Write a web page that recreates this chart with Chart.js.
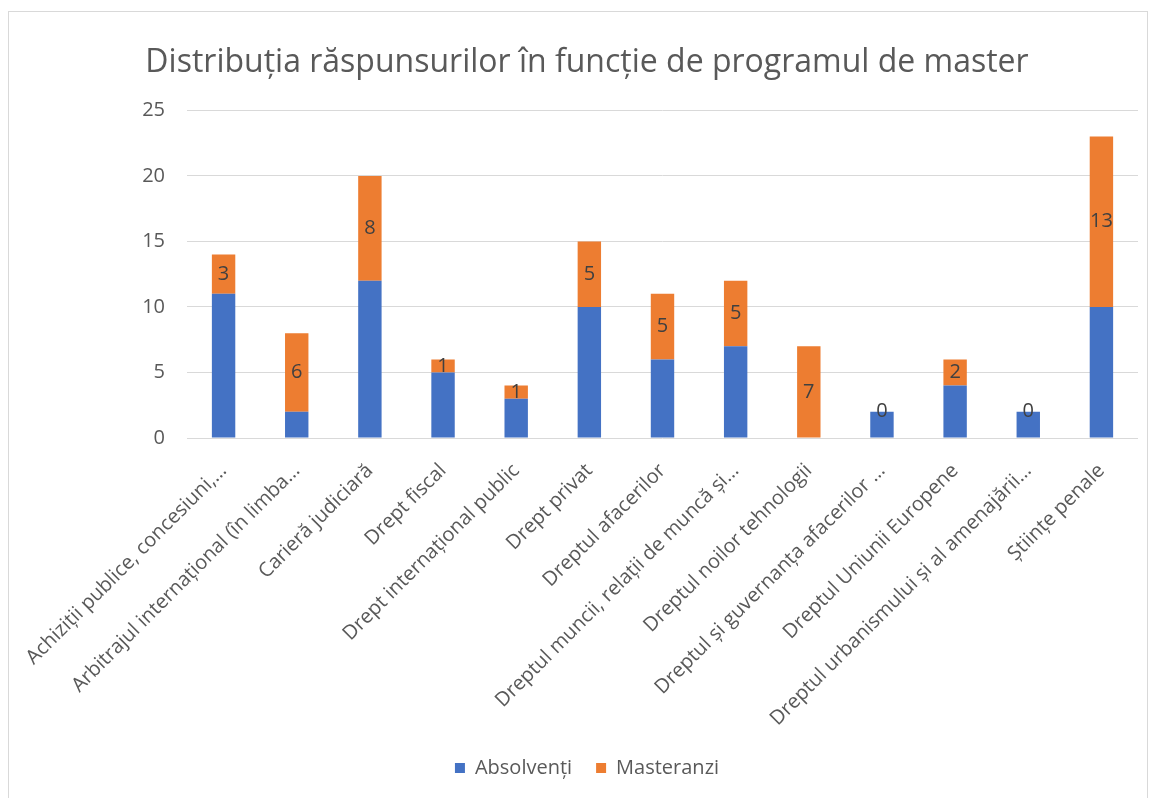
<!DOCTYPE html>
<html>
<head>
<meta charset="utf-8">
<script src="https://cdn.jsdelivr.net/npm/chart.js@4.4.1/dist/chart.umd.min.js"></script>
<style>
  html, body { margin: 0; padding: 0; background: #fff; }
  .frame {
    position: absolute;
    left: 8px;
    top: 11px;
    width: 1140px;
    height: 790px;
    border: 1px solid #d9d9d9;
    box-sizing: border-box;
  }
  .frame canvas { display: block; }
</style>
</head>
<body>
<div class="frame">
  <canvas id="chart" width="1138" height="788"></canvas>
</div>
<script>
const programs = [
  'Achiziții publice, concesiuni,…',
  'Arbitrajul internațional (în limba…',
  'Carieră judiciară',
  'Drept fiscal',
  'Drept internațional public',
  'Drept privat',
  'Dreptul afacerilor',
  'Dreptul muncii, relații de muncă și…',
  'Dreptul noilor tehnologii',
  'Dreptul și guvernanța afacerilor …',
  'Dreptul Uniunii Europene',
  'Dreptul urbanismului și al amenajării…',
  'Științe penale',
];
const absolventi = [11, 2, 12, 5, 3, 10, 6, 7, 0, 2, 4, 2, 10];
const masteranzi = [3, 6, 8, 1, 1, 5, 5, 5, 7, 0, 2, 0, 13];
const yTicks = [0, 5, 10, 15, 20, 25];

const COLORS = {
  blue: '#4472c4',
  orange: '#ed7d31',
  grid: '#d9d9d9',
  text: '#595959',
  label: '#404040',
};
const FONT = 'Open Sans, sans-serif';

// draws the value labels in the middle of the orange segments
const barLabels = {
  id: 'barLabels',
  afterDatasetsDraw(chart) {
    const { ctx } = chart;
    const meta = chart.getDatasetMeta(1);
    ctx.save();
    ctx.font = `20px ${FONT}`;
    ctx.fillStyle = COLORS.label;
    ctx.textAlign = 'center';
    ctx.textBaseline = 'middle';
    meta.data.forEach((bar, i) => {
      const { x, y, base } = bar.getProps(['x', 'y', 'base'], true);
      ctx.fillText(String(masteranzi[i]), x, (y + base) / 2);
    });
    ctx.restore();
  },
};

new Chart(document.getElementById('chart'), {
  type: 'bar',
  data: {
    labels: programs,
    datasets: [
      {
        label: 'Absolvenți',
        data: absolventi,
        backgroundColor: COLORS.blue,
        barPercentage: 0.32,
        categoryPercentage: 1,
      },
      {
        label: 'Masteranzi',
        data: masteranzi,
        backgroundColor: COLORS.orange,
        barPercentage: 0.32,
        categoryPercentage: 1,
      },
    ],
  },
  options: {
    responsive: false,
    animation: false,
    layout: { padding: { left: 18, right: 0, top: 0, bottom: 12 } },
    scales: {
      x: {
        stacked: true,
        grid: { display: false },
        border: { display: false },
        ticks: {
          font: { family: FONT, size: 20 },
          color: COLORS.text,
          minRotation: 45,
          maxRotation: 45,
          autoSkip: false,
          padding: 13,
        },
        afterFit(scale) { scale.height = 296; },
      },
      y: {
        stacked: true,
        min: 0,
        max: 25,
        afterBuildTicks(scale) { scale.ticks = yTicks.map((v) => ({ value: v })); },
        grid: { color: COLORS.grid, lineWidth: 1, drawTicks: false },
        border: { display: false },
        ticks: {
          font: { family: FONT, size: 20 },
          color: COLORS.text,
          padding: 22,
        },
        afterFit(scale) { scale.width = 160; },
      },
      // empty strip on the right so the plot ends where the reference does
      yRight: {
        type: 'linear',
        position: 'right',
        grid: { display: false },
        border: { display: false },
        ticks: { display: false },
        afterFit(scale) { scale.width = 9; },
      },
    },
    plugins: {
      title: {
        display: true,
        text: 'Distribuția răspunsurilor în funcție de programul de master',
        color: COLORS.text,
        font: { family: FONT, size: 32, weight: 'normal' },
        padding: { top: 32, bottom: 28 },
      },
      legend: {
        position: 'bottom',
        labels: {
          font: { family: FONT, size: 20 },
          color: COLORS.text,
          boxWidth: 10,
          boxHeight: 10,
          padding: 24,
        },
      },
      tooltip: { enabled: false },
    },
  },
  plugins: [barLabels],
});
</script>
</body>
</html>
